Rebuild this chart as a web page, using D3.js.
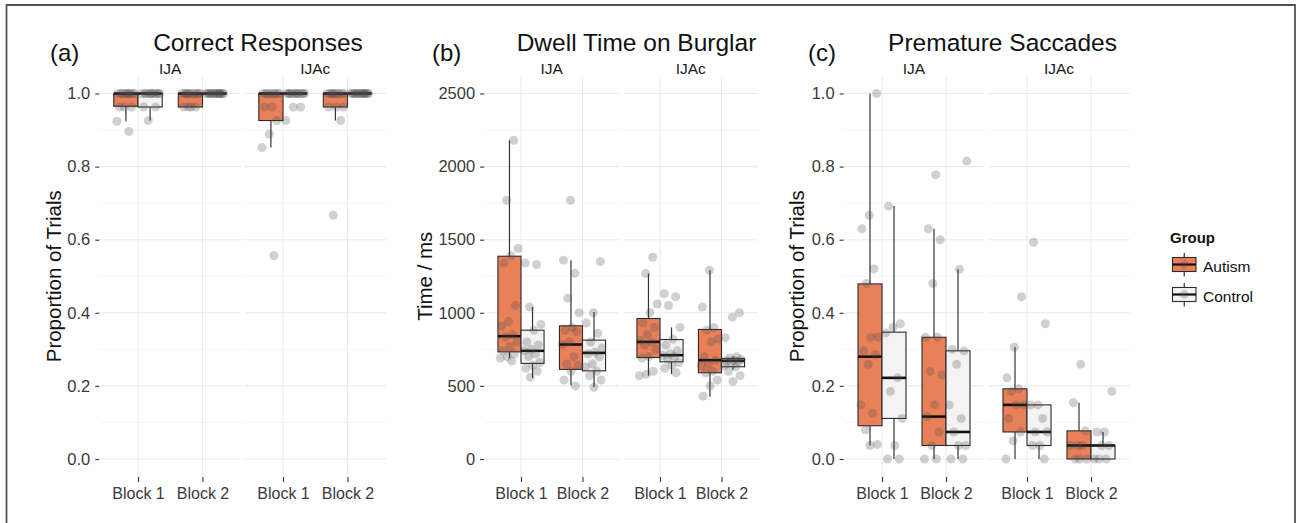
<!DOCTYPE html>
<html>
<head>
<meta charset="utf-8">
<script src="https://cdn.jsdelivr.net/npm/d3@7"></script>
<style>
  html, body { margin: 0; padding: 0; background: #fff; }
  svg { display: block; font-family: "Liberation Sans", Arial, Helvetica, sans-serif; }
</style>
</head>
<body>
<svg id="chart" width="1298" height="523"></svg>
<script>
// ---------------- DATA ----------------
const blocks = ["Block 1", "Block 2"];
const conditions = ["IJA", "IJAc"];
const groups = ["Autism", "Control"];
const panelLetters = ["(a)", "(b)", "(c)"];
const panelTitles = ["Correct Responses", "Dwell Time on Burglar", "Premature Saccades"];
const yTitles = ["Proportion of Trials", "Time / ms", "Proportion of Trials"];
const propTicks = [0, 0.2, 0.4, 0.6, 0.8, 1.0];
const timeTicks = [0, 500, 1000, 1500, 2000, 2500];

// stats: [lower whisker, q1, median, q3, upper whisker]
const correctBoxes = [
  {cond: "IJA",  block: "Block 1", group: "Autism",  stats: [0.924, 0.965, 1.0, 1.0, 1.0], pts: [1,1,1,1,1,1,1,1,1,0.963,0.963,0.963,0.924,0.896]},
  {cond: "IJA",  block: "Block 1", group: "Control", stats: [0.926, 0.963, 1.0, 1.0, 1.0], pts: [1,1,1,1,1,1,1,1,1,1,0.963,0.963,0.926]},
  {cond: "IJA",  block: "Block 2", group: "Autism",  stats: [0.963, 0.963, 1.0, 1.0, 1.0], pts: [1,1,1,1,1,1,1,1,1,1,0.963,0.963,0.963,0.963]},
  {cond: "IJA",  block: "Block 2", group: "Control", stats: [1.0, 1.0, 1.0, 1.0, 1.0],     pts: [1,1,1,1,1,1,1,1,1,1,1,1,1,1]},
  {cond: "IJAc", block: "Block 1", group: "Autism",  stats: [0.852, 0.926, 1.0, 1.0, 1.0], pts: [1,1,1,1,1,1,1,1,0.963,0.963,0.926,0.889,0.852,0.556]},
  {cond: "IJAc", block: "Block 1", group: "Control", stats: [1.0, 1.0, 1.0, 1.0, 1.0],     pts: [1,1,1,1,1,1,1,1,1,1,1,0.963,0.963,0.926]},
  {cond: "IJAc", block: "Block 2", group: "Autism",  stats: [0.926, 0.963, 1.0, 1.0, 1.0], pts: [1,1,1,1,1,1,1,1,1,0.963,0.963,0.963,0.926,0.667]},
  {cond: "IJAc", block: "Block 2", group: "Control", stats: [1.0, 1.0, 1.0, 1.0, 1.0],     pts: [1,1,1,1,1,1,1,1,1,1,1,1,1,1]}
];

const dwellBoxes = [
  {cond: "IJA",  block: "Block 1", group: "Autism",  stats: [690, 733, 840, 1387, 2180], pts: [2180,1770,1440,1390,1340,1050,940,910,850,835,800,770,740,720,700,690,670]},
  {cond: "IJA",  block: "Block 1", group: "Control", stats: [555, 654, 740, 881, 1040],  pts: [1340,1330,1040,920,880,800,780,750,740,720,700,660,640,620,600,560]},
  {cond: "IJA",  block: "Block 2", group: "Autism",  stats: [505, 613, 783, 911, 1360],  pts: [1770,1360,1270,1100,1000,900,880,870,800,783,700,650,640,600,540,500]},
  {cond: "IJA",  block: "Block 2", group: "Control", stats: [492, 603, 726, 813, 1006],  pts: [1350,1000,930,860,800,760,730,720,700,650,630,600,570,540,490]},
  {cond: "IJAc", block: "Block 1", group: "Autism",  stats: [570, 694, 801, 961, 1268],  pts: [1380,1268,1060,1000,930,900,850,810,800,780,750,700,690,600,580,570]},
  {cond: "IJAc", block: "Block 1", group: "Control", stats: [580, 665, 710, 817, 900],   pts: [1130,1110,1050,900,820,780,740,720,710,700,680,660,640,620,590]},
  {cond: "IJAc", block: "Block 2", group: "Autism",  stats: [426, 590, 676, 886, 1291],  pts: [1291,1040,900,880,820,800,700,676,650,640,600,590,540,500,430]},
  {cond: "IJAc", block: "Block 2", group: "Control", stats: [610, 631, 672, 688, 700],   pts: [1000,970,830,700,690,680,675,670,665,660,640,630,600,570,530]}
];

const saccadeBoxes = [
  {cond: "IJA",  block: "Block 1", group: "Autism",  stats: [0.037, 0.091, 0.280, 0.479, 1.0],  pts: [1.0,0.667,0.63,0.52,0.48,0.333,0.333,0.296,0.286,0.259,0.148,0.125,0.08,0.04,0.037]},
  {cond: "IJA",  block: "Block 1", group: "Control", stats: [0.0, 0.111, 0.222, 0.347, 0.692],  pts: [0.692,0.37,0.36,0.345,0.222,0.185,0.111,0.037,0.0,0.0]},
  {cond: "IJA",  block: "Block 2", group: "Autism",  stats: [0.0, 0.037, 0.116, 0.333, 0.63],   pts: [0.778,0.63,0.60,0.48,0.333,0.333,0.24,0.23,0.148,0.116,0.074,0.037,0.0,0.0]},
  {cond: "IJA",  block: "Block 2", group: "Control", stats: [0.0, 0.037, 0.074, 0.296, 0.519],  pts: [0.815,0.519,0.30,0.296,0.259,0.148,0.111,0.074,0.037,0.037,0.0,0.0]},
  {cond: "IJAc", block: "Block 1", group: "Autism",  stats: [0.0, 0.074, 0.148, 0.192, 0.306],  pts: [0.444,0.306,0.222,0.192,0.185,0.148,0.148,0.111,0.074,0.05,0.0]},
  {cond: "IJAc", block: "Block 1", group: "Control", stats: [0.0, 0.037, 0.074, 0.148, 0.148],  pts: [0.593,0.37,0.148,0.148,0.111,0.074,0.074,0.037,0.037,0.0]},
  {cond: "IJAc", block: "Block 2", group: "Autism",  stats: [0.0, 0.0, 0.037, 0.077, 0.154],    pts: [0.259,0.154,0.077,0.037,0.037,0.037,0.0,0.0,0.0]},
  {cond: "IJAc", block: "Block 2", group: "Control", stats: [0.0, 0.0, 0.037, 0.037, 0.074],    pts: [0.185,0.074,0.074,0.037,0.037,0.0,0.0,0.0]}
];

const panelData = [correctBoxes, dwellBoxes, saccadeBoxes];
const panelTicks = [propTicks, timeTicks, propTicks];
const panelDomains = [[0, 1], [0, 2500], [0, 1]];

// ---------------- LAYOUT / STYLE ----------------
const W = 1298, H = 523;
const fillColor = {Autism: "#E9805A", Control: "#F3F3F3"};
const FONT = '"Liberation Sans", Arial, Helvetica, sans-serif';
const layout = [
  {left: 99.3,  unit: 64.5, gap: 3.1, titleX: 258,    letterX: 50,  yTitleX: 61,  fmt: d3.format(".1f")},
  {left: 484.1, unit: 61.5, gap: 3.7, titleX: 636.5,  letterX: 432, yTitleX: 432, fmt: d3.format("d")},
  {left: 843.6, unit: 64.0, gap: 4.2, titleX: 1002.5, letterX: 808, yTitleX: 804, fmt: d3.format(".1f")}
];
const panelTop = 75.5, panelBottom = 477;

const svg = d3.select("#chart");
svg.append("rect").attr("x", 0).attr("y", 0).attr("width", W).attr("height", H).attr("fill", "#fff");
// outer frame
svg.append("path")
  .attr("d", `M6.5,${H + 5} L6.5,5 L1295,5 L1295,${H + 5}`)
  .attr("fill", "none").attr("stroke", "#555").attr("stroke-width", 1.8);

// deterministic horizontal spread for points
function spread(i, k) {
  const v = ((i + 1) * 0.6180339887 + k * 0.371) % 1;
  return v - 0.5;
}

layout.forEach((L, p) => {
  const data = panelData[p];
  const facetW = 2.2 * L.unit;
  const g = svg.append("g");

  const y = d3.scaleLinear().domain(panelDomains[p]).range([459, 93.5]);
  const facetScale = d3.scaleOrdinal().domain(conditions).range([L.left, L.left + facetW + L.gap]);
  const xBlock = d3.scalePoint().domain(blocks).range([0.6 * L.unit, 1.6 * L.unit]);
  const xDodge = d3.scaleBand().domain(groups).range([-0.375 * L.unit, 0.375 * L.unit]).padding(0);
  const bw = xDodge.bandwidth();

  const ticks = panelTicks[p];
  const step = ticks[1] - ticks[0];
  const minor = ticks.slice(0, -1).map(t => t + step / 2);

  conditions.forEach(c => {
    const fx = facetScale(c);
    const fg = g.append("g").attr("transform", `translate(${fx},0)`);
    // minor grid
    fg.selectAll(".minor").data(minor).join("line")
      .attr("x1", 0).attr("x2", facetW)
      .attr("y1", d => y(d)).attr("y2", d => y(d))
      .attr("stroke", "#F4F4F4").attr("stroke-width", 0.8);
    // major grid
    fg.selectAll(".major").data(ticks).join("line")
      .attr("x1", 0).attr("x2", facetW)
      .attr("y1", d => y(d)).attr("y2", d => y(d))
      .attr("stroke", "#EBEBEB").attr("stroke-width", 1.1);
    fg.selectAll(".vmajor").data(blocks).join("line")
      .attr("x1", d => xBlock(d)).attr("x2", d => xBlock(d))
      .attr("y1", panelTop).attr("y2", panelBottom)
      .attr("stroke", "#EBEBEB").attr("stroke-width", 1.1);

    // x axis
    const xa = fg.append("g").attr("transform", `translate(0,${panelBottom})`)
      .call(d3.axisBottom(xBlock).tickSize(5).tickPadding(6));
    xa.select(".domain").remove();
    xa.selectAll(".tick line").attr("stroke", "#333").attr("stroke-width", 1.1);
    xa.selectAll(".tick text").attr("fill", "#3a3a3a").style("font-size", "16px").style("font-family", FONT);

    // strip label
    g.append("text")
      .attr("x", fx + facetW / 2).attr("y", 73.5)
      .attr("text-anchor", "middle")
      .style("font-size", "15.5px").attr("fill", "#1a1a1a")
      .text(c);

    // boxes
    const rows = data.filter(d => d.cond === c);
    rows.forEach((d, k) => {
      const cx = xBlock(d.block) + xDodge(d.group) + bw / 2;
      const [lo, q1, med, q3, hi] = d.stats;
      const bg = fg.append("g");
      bg.append("line").attr("x1", cx).attr("x2", cx).attr("y1", y(hi)).attr("y2", y(q3))
        .attr("stroke", "#333").attr("stroke-width", 1.2);
      bg.append("line").attr("x1", cx).attr("x2", cx).attr("y1", y(q1)).attr("y2", y(lo))
        .attr("stroke", "#333").attr("stroke-width", 1.2);
      bg.append("rect")
        .attr("x", cx - bw / 2).attr("width", bw)
        .attr("y", y(q3)).attr("height", Math.max(0, y(q1) - y(q3)))
        .attr("fill", fillColor[d.group]).attr("stroke", "#2b2b2b").attr("stroke-width", 1.1);
      bg.append("line").attr("x1", cx - bw / 2).attr("x2", cx + bw / 2)
        .attr("y1", y(med)).attr("y2", y(med))
        .attr("stroke", "#111").attr("stroke-width", 2.6);
    });
    // points on top
    rows.forEach((d, k) => {
      const cx = xBlock(d.block) + xDodge(d.group) + bw / 2;
      fg.append("g").selectAll("circle").data(d.pts).join("circle")
        .attr("cx", (v, i) => cx + spread(i, k + p * 3) * bw * 0.8)
        .attr("cy", v => y(v))
        .attr("r", 4.5)
        .attr("fill", "#4a4a4a").attr("fill-opacity", 0.26);
    });
  });

  // y axis
  const ya = g.append("g").attr("transform", `translate(${L.left},0)`)
    .call(d3.axisLeft(y).tickValues(ticks).tickFormat(L.fmt).tickSize(4).tickPadding(5));
  ya.select(".domain").remove();
  ya.selectAll(".tick line").attr("stroke", "#333").attr("stroke-width", 1.1);
  ya.selectAll(".tick text").attr("fill", "#3a3a3a").style("font-size", "16.5px").style("font-family", FONT);

  // y title
  g.append("text")
    .attr("transform", `translate(${L.yTitleX},${(panelTop + panelBottom) / 2}) rotate(-90)`)
    .attr("text-anchor", "middle")
    .style("font-size", "20.5px").attr("fill", "#111")
    .text(yTitles[p]);

  // panel title and letter
  g.append("text").attr("x", L.titleX).attr("y", 51).attr("text-anchor", "middle")
    .style("font-size", "24.5px").attr("fill", "#111").text(panelTitles[p]);
  g.append("text").attr("x", L.letterX).attr("y", 61)
    .style("font-size", "24px").attr("fill", "#111").text(panelLetters[p]);
});

// legend
const lg = svg.append("g");
lg.append("text").attr("x", 1170).attr("y", 243).style("font-size", "15px").style("font-weight", "bold")
  .attr("fill", "#111").text("Group");
groups.forEach((gname, i) => {
  const top = 257.5 + i * 30;
  const kx = 1172.5, kw = 23.5, kh = 14;
  lg.append("line").attr("x1", kx + kw / 2).attr("x2", kx + kw / 2).attr("y1", top - 4.5).attr("y2", top + kh + 5)
    .attr("stroke", "#333").attr("stroke-width", 1.2);
  lg.append("rect").attr("x", kx).attr("y", top).attr("width", kw).attr("height", kh)
    .attr("fill", fillColor[gname]).attr("stroke", "#2b2b2b").attr("stroke-width", 1.1);
  lg.append("line").attr("x1", kx).attr("x2", kx + kw).attr("y1", top + kh / 2).attr("y2", top + kh / 2)
    .attr("stroke", "#111").attr("stroke-width", 2.2);
  lg.append("circle").attr("cx", kx + kw / 2).attr("cy", top + kh / 2).attr("r", 4.2)
    .attr("fill", "#4a4a4a").attr("fill-opacity", 0.27);
  lg.append("text").attr("x", 1203).attr("y", top + 14.5).style("font-size", "15.5px")
    .attr("fill", "#111").text(gname);
});
</script>
</body>
</html>
